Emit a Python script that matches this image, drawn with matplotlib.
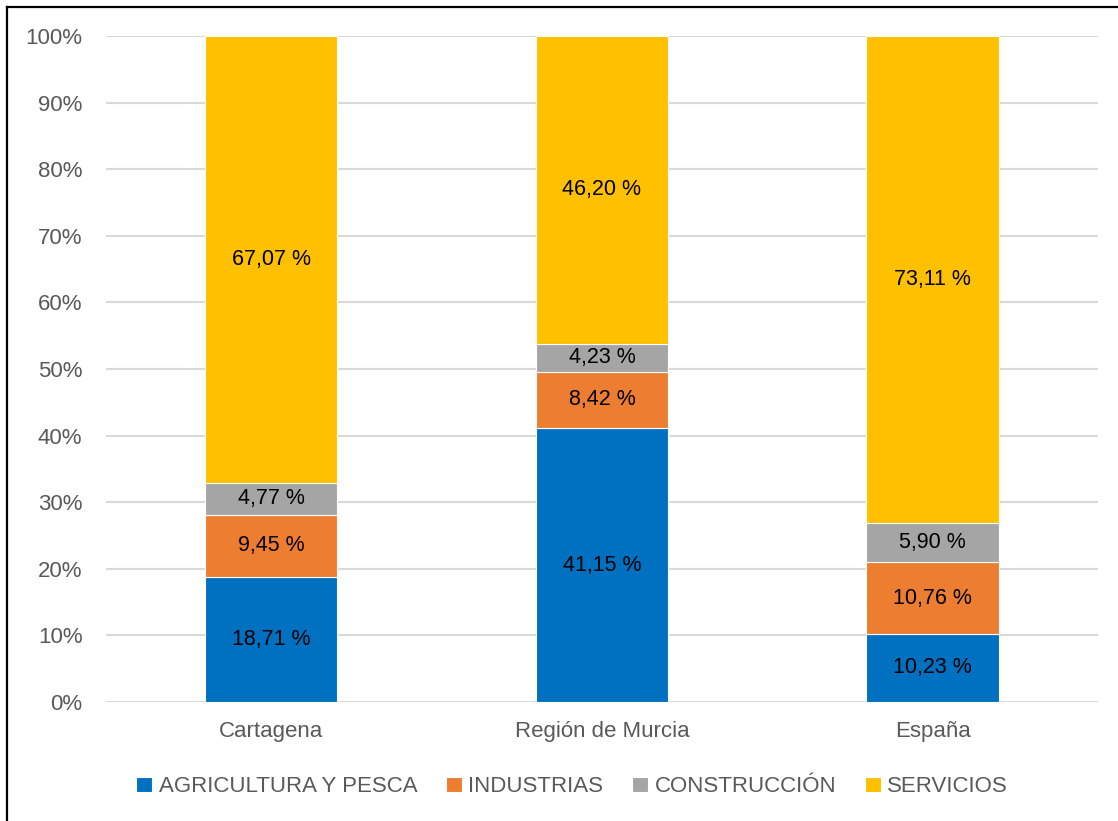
import matplotlib.pyplot as plt
from matplotlib.lines import Line2D
import numpy as np

plt.rcParams['font.family'] = ['Liberation Sans', 'DejaVu Sans']

places = ['Cartagena', 'Región de Murcia', 'España']
sectors = ['AGRICULTURA Y PESCA', 'INDUSTRIAS', 'CONSTRUCCIÓN', 'SERVICIOS']
agricultura = [18.71, 41.15, 10.23]
industrias = [9.45, 8.42, 10.76]
construccion = [4.77, 4.23, 5.90]
servicios = [67.07, 46.20, 73.11]
colors = ['#0070C0', '#ED7D31', '#A5A5A5', '#FFC000']

fig = plt.figure(figsize=(11.18, 8.21), dpi=100)
ax = fig.add_axes([0.0948, 0.1449, 0.8872, 0.8111])

x = np.arange(len(places))
bottom = np.zeros(len(places))
for name, vals, c in zip(sectors, [agricultura, industrias, construccion, servicios], colors):
    vals = np.array(vals)
    ax.bar(x, vals, 0.4, bottom=bottom, color=c, label=name,
           edgecolor='white', linewidth=0.8, zorder=3)
    for xi, b, v in zip(x, bottom, vals):
        ax.text(xi, b + v / 2, f'{v:.2f} %'.replace('.', ','), ha='center',
                va='center', fontsize=15.5, color='black', zorder=4)
    bottom += vals

ax.set_xlim(-0.5, 2.5)
ax.set_ylim(0, 100)
ax.set_yticks(range(0, 101, 10))
ax.set_yticklabels([f'{v}%' for v in range(0, 101, 10)])
ax.set_xticks(x)
ax.set_xticklabels(places)
ax.tick_params(length=0, labelsize=16, labelcolor='#595959')
ax.tick_params(axis='x', pad=14)
ax.tick_params(axis='y', pad=17)
ax.yaxis.grid(True, color='#D9D9D9', linewidth=1.5, zorder=0)
for s in ax.spines.values():
    s.set_visible(False)

ax.legend(loc='center', bbox_to_anchor=(0.47, -0.127), ncol=4, frameon=False,
          fontsize=16, labelcolor='#595959', handlelength=0.7, handleheight=0.7,
          handletextpad=0.3, columnspacing=1.3)

# outer border (left and top edges visible)
fig.add_artist(Line2D([7 / 1118, 7 / 1118], [0, 1 - 7 / 821], color='black', linewidth=1.6))
fig.add_artist(Line2D([7 / 1118, 1], [1 - 7 / 821, 1 - 7 / 821], color='black', linewidth=1.6))

fig.savefig('out.png', dpi=100)
